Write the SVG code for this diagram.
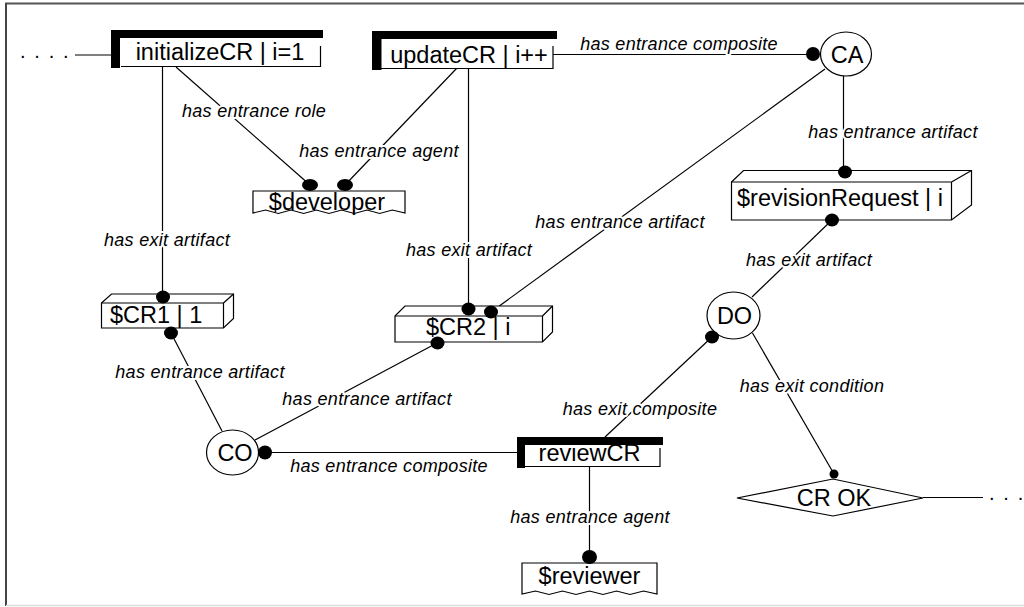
<svg xmlns="http://www.w3.org/2000/svg" width="1024" height="607" viewBox="0 0 1024 607">
  <style>
    .ln { fill: none; stroke: #000; stroke-width: 1.2; }
    .dot { fill: #000; }
    .bar { fill: #000; }
    .box { fill: #fff; stroke: #000; stroke-width: 1.2; }
    .edge { fill: none; stroke: #000; stroke-width: 1.2; }
    .nt { font-family: "Liberation Sans", Arial, sans-serif; font-size: 23.5px; fill: #000; }
    .mid { text-anchor: middle; }
    .lbl { font-family: "Liberation Sans", Arial, sans-serif; font-size: 18px; font-style: italic; letter-spacing: 0.3px; text-anchor: middle; fill: #000; stroke: #fff; stroke-width: 4; stroke-linejoin: round; paint-order: stroke; }
  </style>

  <rect x="0" y="0" width="1024" height="607" fill="#fff"/>
  <!-- frame -->
  <g id="frame">
    <line x1="5" y1="3.5" x2="1024" y2="3.5" stroke="#555" stroke-width="2"/>
    <line x1="6" y1="3" x2="6" y2="606" stroke="#444" stroke-width="2"/>
    <line x1="6" y1="605.5" x2="1024" y2="605.5" stroke="#ddd" stroke-width="1.5"/>
  </g>

  <!-- connectors -->
  <g id="connectors">
    <line class="ln" x1="75" y1="55" x2="111" y2="55"/>
    <text class="nt" x="20" y="58" style="font-size:20px; letter-spacing:1.6px">. . . .</text>
    <line class="ln" x1="162.5" y1="66" x2="162.5" y2="297"/>
    <line class="ln" x1="176" y1="67" x2="310" y2="185"/>
    <line class="ln" x1="457" y1="68" x2="345" y2="185"/>
    <line class="ln" x1="468.5" y1="68" x2="468.5" y2="309"/>
    <line class="ln" x1="553" y1="54.5" x2="813" y2="54.5"/>
    <line class="ln" x1="843.5" y1="76" x2="843.5" y2="172"/>
    <line class="ln" x1="825" y1="69" x2="491" y2="312"/>
    <line class="ln" x1="832" y1="220" x2="752" y2="297"/>
    <line class="ln" x1="712" y1="337" x2="605" y2="437"/>
    <line class="ln" x1="752.5" y1="333" x2="834" y2="474"/>
    <line class="ln" x1="923" y1="497.5" x2="983" y2="497.5"/>
    <text class="nt" x="989" y="500" style="font-size:20px; letter-spacing:1.6px">. . .</text>
    <line class="ln" x1="222" y1="431" x2="171" y2="333"/>
    <line class="ln" x1="255" y1="440" x2="437" y2="343"/>
    <line class="ln" x1="265" y1="452.5" x2="517" y2="452.5"/>
    <line class="ln" x1="589.5" y1="466" x2="589.5" y2="557"/>
  </g>

  <!-- nodes -->
  <g id="initializeCR">
    <rect x="121" y="38" width="199" height="28" fill="#fff"/>
    <path class="edge" d="M121,66.5 H320.5 V46"/>
    <rect class="bar" x="111" y="30" width="212" height="8"/>
    <rect class="bar" x="111" y="30" width="9" height="38"/>
    <text class="nt mid" x="220" y="60">initializeCR | i=1</text>
  </g>

  <g id="updateCR">
    <rect x="381" y="39" width="172" height="29" fill="#fff"/>
    <path class="edge" d="M381,68.5 H553 V46"/>
    <rect class="bar" x="372" y="31" width="185" height="8"/>
    <rect class="bar" x="372" y="31" width="9.5" height="39"/>
    <text class="nt mid" x="469" y="63">updateCR | i++</text>
  </g>

  <g id="reviewCR">
    <rect x="525" y="445" width="135" height="21" fill="#fff"/>
    <path class="edge" d="M525,466.5 H660 V448"/>
    <rect class="bar" x="517" y="437" width="146" height="8"/>
    <rect class="bar" x="517" y="437" width="8" height="31"/>
    <text class="nt mid" x="589.5" y="461">reviewCR</text>
  </g>

  <g id="developer">
    <path class="box" d="M253,191 H405 V213 l-12.67,-3 l-12.67,3.5 l-12.67,-3.5 l-12.67,3.5 l-12.67,-3.5 l-12.67,3.5 l-12.67,-3.5 l-12.67,3.5 l-12.67,-3.5 l-12.67,3.5 l-12.67,-3.5 l-12.67,3 Z"/>
    <text class="nt mid" x="327" y="210">$developer</text>
  </g>

  <g id="reviewer">
    <path class="box" d="M522,563 H657 V594 l-13.5,-3 l-13.5,3.5 l-13.5,-3.5 l-13.5,3.5 l-13.5,-3.5 l-13.5,3.5 l-13.5,-3.5 l-13.5,3.5 l-13.5,-3.5 l-13.5,3 Z"/>
    <text class="nt mid" x="589.5" y="584">$reviewer</text>
  </g>

  <g id="CR1">
    <path class="box" d="M101.5,303 L111.5,294 H233.5 V318.5 L223.5,328 H101.5 Z"/>
    <path class="edge" d="M101.5,303 H223.5 V328 M223.5,303 L233.5,294"/>
    <text class="nt" x="110" y="323">$CR1 | 1</text>
  </g>

  <g id="CR2">
    <path class="box" d="M395,316 L405,306 H552.5 V332 L542.5,342 H395 Z"/>
    <path class="edge" d="M395,316 H542.5 V342 M542.5,316 L552.5,306"/>
    <text class="nt" x="426" y="335">$CR2 | i</text>
  </g>

  <g id="revisionRequest">
    <path class="box" d="M731.5,182 L743.5,170.5 H971.5 V205 L951.5,220 H731.5 Z"/>
    <path class="edge" d="M731.5,182 H951.5 V220 M951.5,182 L971.5,170.5"/>
    <text class="nt mid" x="840" y="206">$revisionRequest | i</text>
  </g>

  <g id="CA">
    <ellipse class="box" cx="846" cy="54" rx="25.5" ry="22"/>
    <text class="nt mid" x="847" y="63">CA</text>
  </g>

  <g id="DO">
    <ellipse class="box" cx="733.5" cy="315.5" rx="26.5" ry="23.5"/>
    <text class="nt mid" x="734.5" y="324">DO</text>
  </g>

  <g id="CO">
    <ellipse class="box" cx="232.5" cy="452.5" rx="26" ry="22.5"/>
    <text class="nt mid" x="235" y="461">CO</text>
  </g>

  <g id="CR_OK">
    <polygon class="box" points="737,498 833,479 923,498 833,516"/>
    <text class="nt mid" x="834" y="506">CR OK</text>
  </g>

  <!-- connector end dots -->
  <g id="dots">
    <ellipse class="dot" cx="813" cy="54" rx="7" ry="7"/>
    <ellipse class="dot" cx="845" cy="172" rx="7" ry="6.5"/>
    <ellipse class="dot" cx="832" cy="220" rx="7" ry="6.5"/>
    <ellipse class="dot" cx="712" cy="337" rx="7" ry="6.5"/>
    <ellipse class="dot" cx="834" cy="474" rx="4.5" ry="4.5"/>
    <ellipse class="dot" cx="589.5" cy="557" rx="7.5" ry="7"/>
    <ellipse class="dot" cx="265" cy="452.5" rx="7" ry="7"/>
    <ellipse class="dot" cx="437.5" cy="343" rx="7" ry="6.5"/>
    <ellipse class="dot" cx="468.5" cy="309" rx="7" ry="6.5"/>
    <ellipse class="dot" cx="491" cy="312" rx="7" ry="6.5"/>
    <ellipse class="dot" cx="163" cy="297" rx="7" ry="6.5"/>
    <ellipse class="dot" cx="171" cy="333" rx="7" ry="6.5"/>
    <ellipse class="dot" cx="310" cy="185" rx="8" ry="6"/>
    <ellipse class="dot" cx="345" cy="185" rx="8" ry="6"/>
  </g>

  <!-- connector labels -->
  <g id="labels">
    <text class="lbl" x="254" y="117">has entrance role</text>
    <text class="lbl" x="379" y="157">has entrance agent</text>
    <text class="lbl" x="679" y="50">has entrance composite</text>
    <text class="lbl" x="893" y="138">has entrance artifact</text>
    <text class="lbl" x="620" y="228">has entrance artifact</text>
    <text class="lbl" x="167" y="246">has exit artifact</text>
    <text class="lbl" x="469" y="256">has exit artifact</text>
    <text class="lbl" x="809" y="266">has exit artifact</text>
    <text class="lbl" x="200" y="378">has entrance artifact</text>
    <text class="lbl" x="367" y="405">has entrance artifact</text>
    <text class="lbl" x="812" y="392">has exit condition</text>
    <text class="lbl" x="640" y="415">has exit composite</text>
    <text class="lbl" x="389" y="472">has entrance composite</text>
    <text class="lbl" x="590" y="523">has entrance agent</text>
  </g>
</svg>
